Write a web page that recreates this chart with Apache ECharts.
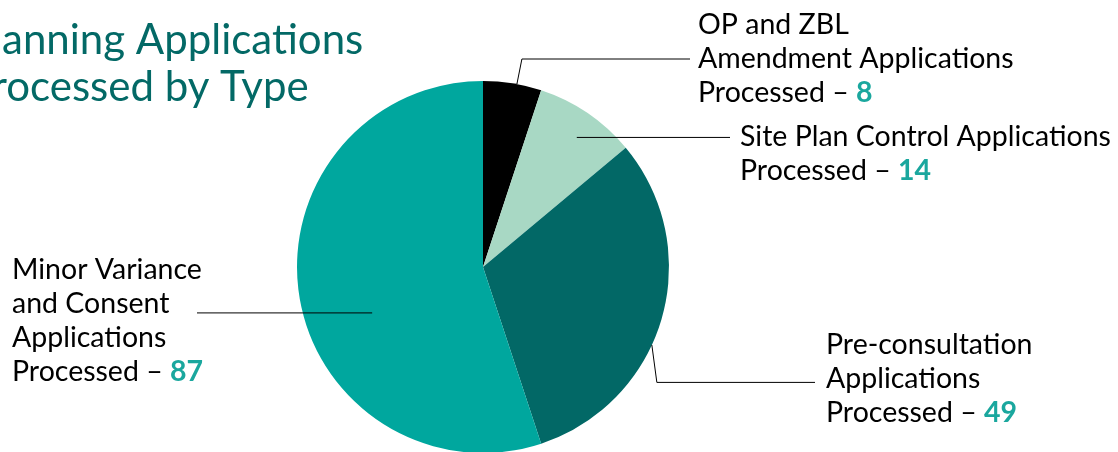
<!DOCTYPE html>
<html>
<head>
<meta charset="utf-8">
<script src="https://cdn.jsdelivr.net/npm/echarts@6/dist/echarts.min.js"></script>
<style>
html,body{margin:0;padding:0;background:#fff;}
#c{width:1118px;height:452px;}
</style>
</head>
<body>
<div id="c"></div>
<script>
// ---- data ----
var categories = [
  'OP and ZBL\nAmendment Applications\nProcessed',
  'Site Plan Control Applications\nProcessed',
  'Pre-consultation\nApplications\nProcessed',
  'Minor Variance\nand Consent\nApplications\nProcessed'
];
var values = [8, 14, 49, 87];
var titleText = 'Planning Applications\nProcessed by Type';

// ---- styles / layout ----
var colors = ['#000000', '#a8d8c4', '#026866', '#00a79e'];
var CX = 483, CY = 267, R = 186;
var FONT = 'Lato';
var FS = 28.5;
var LH = 34;
// label top-left anchors
var labelPos = [
  {x: 698, y: 8},
  {x: 740, y: 120},
  {x: 826, y: 328},
  {x: 12, y: 253}
];
function polar(deg, frac) {
  var a = deg * Math.PI / 180;
  return [CX + R * frac * Math.sin(a), CY - R * frac * Math.cos(a)];
}
function leader(i) {
  var L = labelPos[i], s;
  if (i === 0) { s = polar(10.5, 1.0); return [s, [s[0] + 5, L.y + LH * 1.5], [L.x - 8, L.y + LH * 1.5]]; }
  if (i === 1) { s = polar(35.9, 0.86); return [s, [L.x - 10, s[1]]]; }
  if (i === 2) { s = polar(114.8, 1.0); return [s, [s[0] + 5, L.y + LH * 1.6], [L.x - 11, L.y + LH * 1.6]]; }
  s = polar(247.5, 0.645); return [s, [L.x + 185, s[1]]];
}

var pieData = categories.map(function (c, i) {
  return {name: c, value: values[i], itemStyle: {color: colors[i]}};
});
var pieBase = {
  type: 'pie',
  center: [CX, CY],
  radius: R,
  startAngle: 90,
  clockwise: true,
  avoidLabelOverlap: false,
  emphasis: {disabled: true},
  data: pieData
};

var chart = echarts.init(document.getElementById('c'), null, {renderer: 'canvas'});
chart.setOption({
  animation: false,
  title: {
    text: titleText,
    left: -33,
    top: 17,
    padding: 0,
    textStyle: {fontFamily: FONT, fontSize: 42, fontWeight: 'normal', color: '#036966', lineHeight: 47}
  },
  series: [
    Object.assign({}, pieBase, {
      z: 2,
      itemStyle: {borderWidth: 0},
      label: {show: false},
      labelLine: {show: false}
    }),
    Object.assign({}, pieBase, {
      z: 5,
      silent: true,
      itemStyle: {color: 'rgba(0,0,0,0)', borderWidth: 0},
      data: categories.map(function (c, i) { return {name: c, value: values[i]}; }),
      label: {
        show: true,
        position: 'outside',
        formatter: function (p) { return '{n|' + p.name + ' – }{v|' + p.value + '}'; },
        rich: {
          n: {fontFamily: FONT, fontSize: FS, color: '#000', lineHeight: LH},
          v: {fontFamily: FONT, fontSize: FS, fontWeight: 'bold', color: '#1aa79e', lineHeight: LH}
        }
      },
      labelLine: {show: true, smooth: false, lineStyle: {color: '#000', width: 1}},
      labelLayout: function (p) {
        var L = labelPos[p.dataIndex];
        return {x: L.x, y: L.y, align: 'left', verticalAlign: 'top', labelLinePoints: leader(p.dataIndex)};
      }
    })
  ]
});
</script>
</body>
</html>
